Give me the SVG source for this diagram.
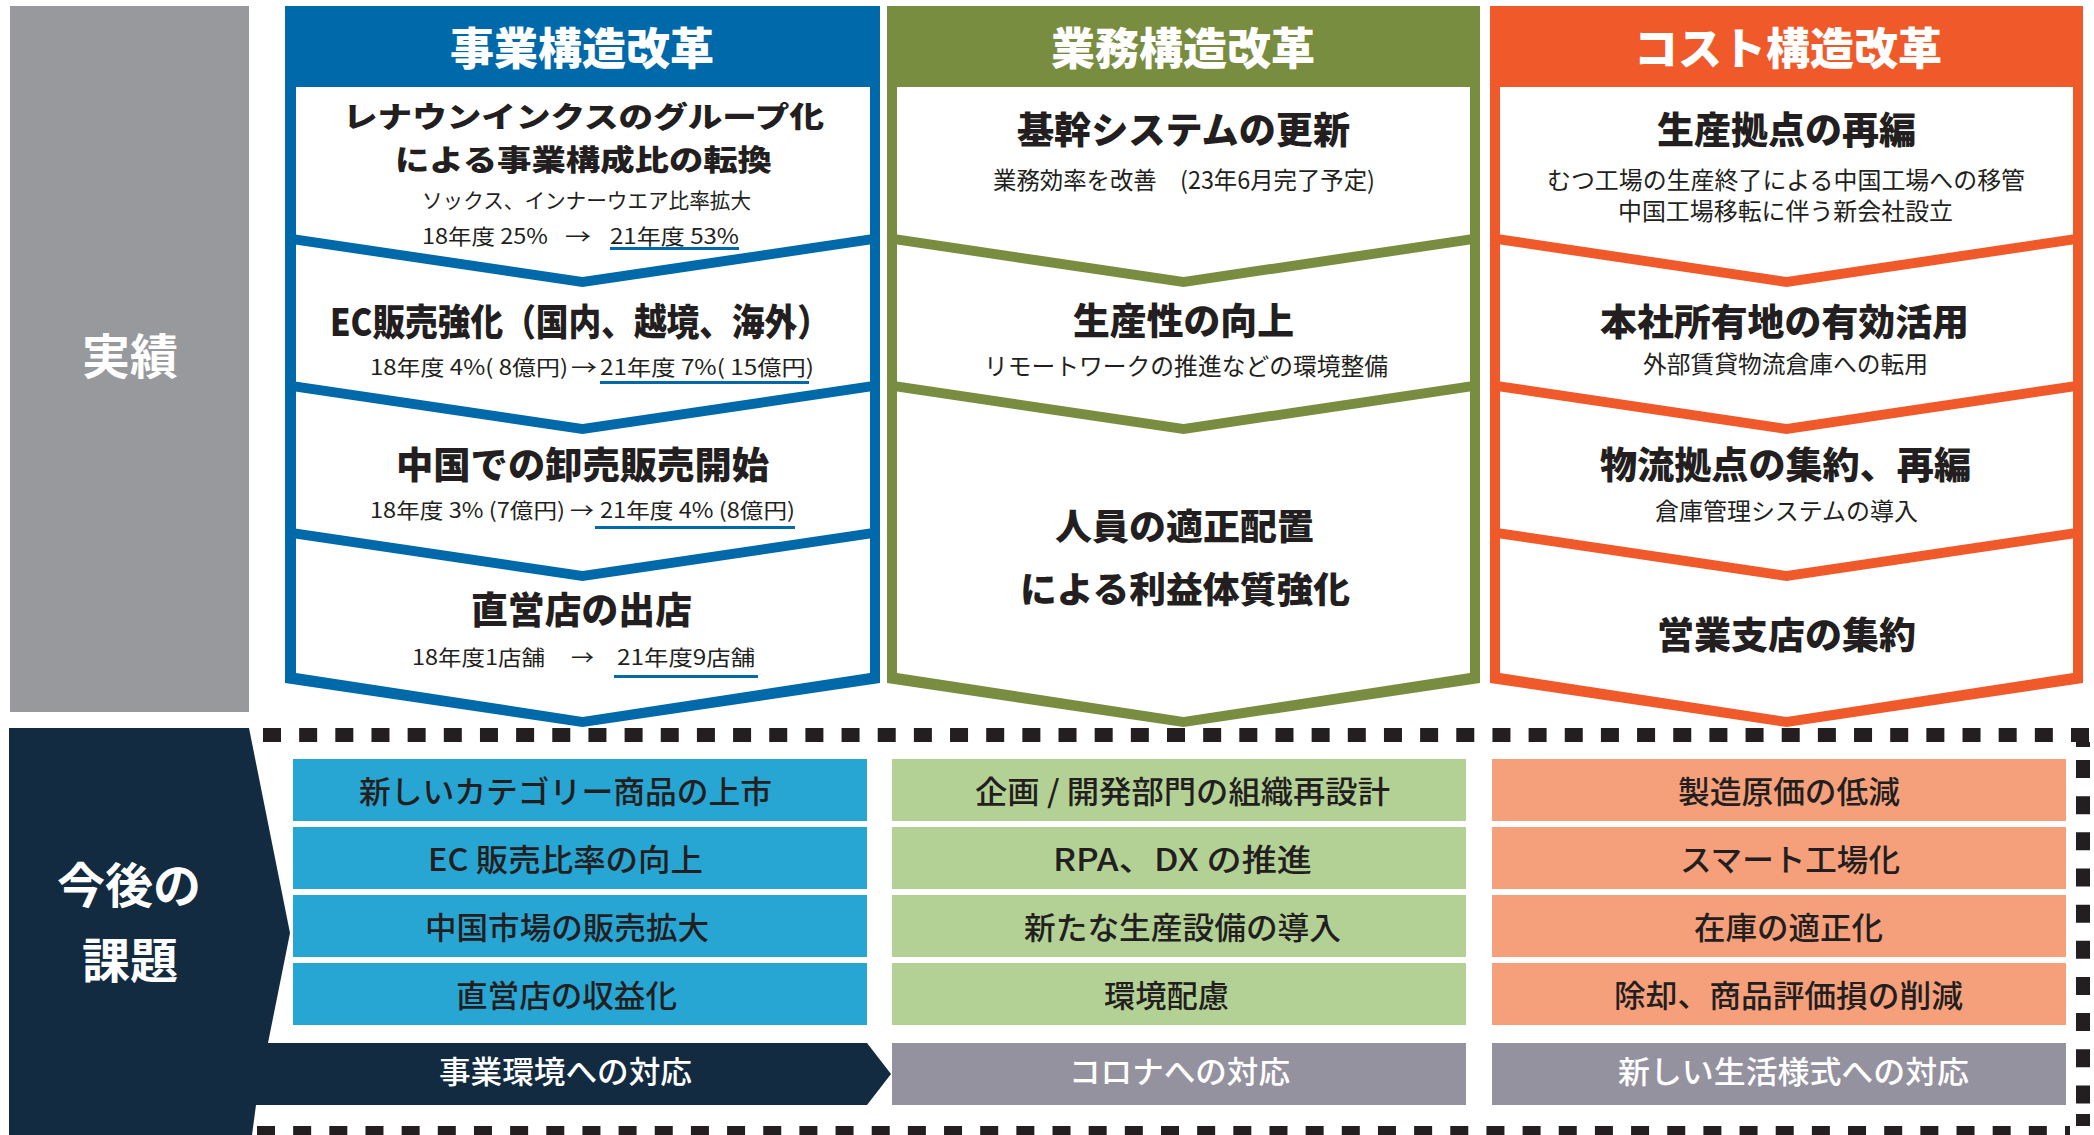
<svg xmlns="http://www.w3.org/2000/svg" width="2094" height="1135" viewBox="0 0 2094 1135">
<style>
text{font-family:"Noto Sans CJK JP","Noto Sans",sans-serif;fill:#231F20}
.h{font-size:44px;font-weight:900;fill:#fff;text-anchor:middle}
.t{font-size:37px;font-weight:900}
.t2{font-size:29px;font-weight:900}
.t3{font-size:36px;font-weight:900}
.s{font-size:24px;font-weight:400}
.n{font-size:21px;font-weight:400}
.k{font-size:31px;font-weight:500}
.w{fill:#fff}
.big{font-size:48px;font-weight:700;fill:#fff;text-anchor:middle}
.ul{fill:#0069AA}
.dash{stroke:#231F20;stroke-width:14;stroke-dasharray:18 18.16;fill:none}
</style>
<rect width="2094" height="1135" fill="#fff"/>

<g id="jisseki">
<rect x="10" y="6" width="239" height="706" fill="#98999D"/>
<text class="big" x="130" y="374">実績</text>
</g>

<g id="col-business">
<polygon points="285,6 880,6 880,683 582.5,727 285,683" fill="#0069AA"/>
<polygon points="296,87 870,87 870,673 582.5,717 296,673" fill="#fff"/>
<polygon points="285,233 582.5,277 880,233 880,243 582.5,287 285,243" fill="#0069AA"/>
<polygon points="285,380 582.5,424 880,380 880,390 582.5,434 285,390" fill="#0069AA"/>
<polygon points="285,527 582.5,571 880,527 880,537 582.5,581 285,537" fill="#0069AA"/>
<text class="h" x="582" y="65">事業構造改革</text>
<text class="t2" x="343" y="128" textLength="481" lengthAdjust="spacingAndGlyphs">レナウンインクスのグループ化</text>
<text class="t2" x="395" y="171" textLength="377" lengthAdjust="spacingAndGlyphs">による事業構成比の転換</text>
<text class="n" x="422" y="208" textLength="329" lengthAdjust="spacingAndGlyphs">ソックス、インナーウエア比率拡大</text>
<text class="n" x="422" y="244" textLength="126" lengthAdjust="spacingAndGlyphs">18年度 25%</text>
<text class="n" x="565" y="244" textLength="26" lengthAdjust="spacingAndGlyphs">→</text>
<text class="n" x="610" y="244" textLength="129" lengthAdjust="spacingAndGlyphs">21年度 53%</text>
<rect class="ul" x="610" y="247" width="129" height="3"/>
<text class="t" x="330" y="336" textLength="500" lengthAdjust="spacingAndGlyphs">EC販売強化（国内、越境、海外）</text>
<text class="n" x="370" y="375" textLength="198" lengthAdjust="spacingAndGlyphs">18年度 4%( 8億円)</text>
<text class="n" x="571" y="375" textLength="26" lengthAdjust="spacingAndGlyphs">→</text>
<text class="n" x="600" y="375" textLength="214" lengthAdjust="spacingAndGlyphs">21年度 7%( 15億円)</text>
<rect class="ul" x="600" y="381" width="209" height="3"/>
<text class="t" x="396" y="479" textLength="373" lengthAdjust="spacingAndGlyphs">中国での卸売販売開始</text>
<text class="n" x="370" y="518" textLength="195" lengthAdjust="spacingAndGlyphs">18年度 3% (7億円)</text>
<text class="n" x="570" y="518" textLength="24" lengthAdjust="spacingAndGlyphs">→</text>
<text class="n" x="600" y="518" textLength="195" lengthAdjust="spacingAndGlyphs">21年度 4% (8億円)</text>
<rect class="ul" x="595" y="526" width="200" height="3"/>
<text class="t" x="471" y="624" textLength="221" lengthAdjust="spacingAndGlyphs">直営店の出店</text>
<text class="n" x="412" y="665" textLength="133" lengthAdjust="spacingAndGlyphs">18年度1店舗</text>
<text class="n" x="571" y="665" textLength="23" lengthAdjust="spacingAndGlyphs">→</text>
<text class="n" x="617" y="665" textLength="138" lengthAdjust="spacingAndGlyphs">21年度9店舗</text>
<rect class="ul" x="614" y="675" width="144" height="3"/>
</g>

<g id="col-operations">
<polygon points="887,6 1480,6 1480,683 1183.5,727 887,683" fill="#798D41"/>
<polygon points="897,87 1470,87 1470,673 1183.5,717 897,673" fill="#fff"/>
<polygon points="887,233 1183.5,277 1480,233 1480,243 1183.5,287 887,243" fill="#798D41"/>
<polygon points="887,380 1183.5,424 1480,380 1480,390 1183.5,434 887,390" fill="#798D41"/>
<text class="h" x="1183" y="65">業務構造改革</text>
<text class="t" x="1017" y="144" textLength="333" lengthAdjust="spacingAndGlyphs">基幹システムの更新</text>
<text class="s" x="993" y="189" textLength="382" lengthAdjust="spacingAndGlyphs">業務効率を改善　(23年6月完了予定)</text>
<text class="t" x="1073" y="335" textLength="221" lengthAdjust="spacingAndGlyphs">生産性の向上</text>
<text class="s" x="984" y="375" textLength="404" lengthAdjust="spacingAndGlyphs">リモートワークの推進などの環境整備</text>
<text class="t3" x="1055" y="540" textLength="259" lengthAdjust="spacingAndGlyphs">人員の適正配置</text>
<text class="t3" x="1020" y="603" textLength="330" lengthAdjust="spacingAndGlyphs">による利益体質強化</text>
</g>

<g id="col-cost">
<polygon points="1490,6 2083,6 2083,683 1786.5,727 1490,683" fill="#F05A2A"/>
<polygon points="1500,87 2073,87 2073,673 1786.5,717 1500,673" fill="#fff"/>
<polygon points="1490,233 1786.5,277 2083,233 2083,243 1786.5,287 1490,243" fill="#F05A2A"/>
<polygon points="1490,380 1786.5,424 2083,380 2083,390 1786.5,434 1490,390" fill="#F05A2A"/>
<polygon points="1490,527 1786.5,571 2083,527 2083,537 1786.5,581 1490,537" fill="#F05A2A"/>
<text class="h" x="1788" y="65">コスト構造改革</text>
<text class="t" x="1657" y="144" textLength="259" lengthAdjust="spacingAndGlyphs">生産拠点の再編</text>
<text class="s" x="1547" y="189" textLength="478" lengthAdjust="spacingAndGlyphs">むつ工場の生産終了による中国工場への移管</text>
<text class="s" x="1618" y="220" textLength="335" lengthAdjust="spacingAndGlyphs">中国工場移転に伴う新会社設立</text>
<text class="t" x="1600" y="336" textLength="369" lengthAdjust="spacingAndGlyphs">本社所有地の有効活用</text>
<text class="s" x="1643" y="373" textLength="285" lengthAdjust="spacingAndGlyphs">外部賃貸物流倉庫への転用</text>
<text class="t" x="1600" y="479" textLength="371" lengthAdjust="spacingAndGlyphs">物流拠点の集約、再編</text>
<text class="s" x="1655" y="520" textLength="263" lengthAdjust="spacingAndGlyphs">倉庫管理システムの導入</text>
<text class="t" x="1657" y="649" textLength="259" lengthAdjust="spacingAndGlyphs">営業支店の集約</text>
</g>

<g id="future-frame">
<line class="dash" x1="263" y1="735" x2="2091" y2="735"/>
<line class="dash" x1="257" y1="1133" x2="2070" y2="1133"/>
<line class="dash" x1="2083" y1="760" x2="2083" y2="1104"/>
<path d="M2065,1126 H2090 V1114 H2076 V1126" fill="#231F20"/>
<rect x="2076" y="742" width="14" height="5" fill="#231F20"/>
</g>

<g id="future-label">
<polygon points="9,728 249,728 290,933 268,1043 867,1043 891,1074 867,1105 256,1105 252,1135 9,1135" fill="#132B40"/>
<text class="big" x="129" y="903">今後の</text>
<text class="big" x="130" y="978">課題</text>
<text class="k w" x="439" y="1083" textLength="253" lengthAdjust="spacingAndGlyphs">事業環境への対応</text>
</g>

<g id="tasks-business">
<rect x="293" y="759" width="574" height="62" fill="#27A5D3"/>
<rect x="293" y="827" width="574" height="62" fill="#27A5D3"/>
<rect x="293" y="895" width="574" height="62" fill="#27A5D3"/>
<rect x="293" y="963" width="574" height="62" fill="#27A5D3"/>
<text class="k" x="359" y="803" textLength="413" lengthAdjust="spacingAndGlyphs">新しいカテゴリー商品の上市</text>
<text class="k" x="428" y="871" textLength="275" lengthAdjust="spacingAndGlyphs">EC 販売比率の向上</text>
<text class="k" x="425" y="939" textLength="284" lengthAdjust="spacingAndGlyphs">中国市場の販売拡大</text>
<text class="k" x="456" y="1007" textLength="221" lengthAdjust="spacingAndGlyphs">直営店の収益化</text>
</g>

<g id="tasks-operations">
<rect x="892" y="759" width="574" height="62" fill="#B3D195"/>
<rect x="892" y="827" width="574" height="62" fill="#B3D195"/>
<rect x="892" y="895" width="574" height="62" fill="#B3D195"/>
<rect x="892" y="963" width="574" height="62" fill="#B3D195"/>
<rect x="892" y="1043" width="574" height="62" fill="#95929F"/>
<text class="k" x="975" y="803" textLength="415" lengthAdjust="spacingAndGlyphs">企画 / 開発部門の組織再設計</text>
<text class="k" x="1053" y="871" textLength="259" lengthAdjust="spacingAndGlyphs">RPA、DX の推進</text>
<text class="k" x="1024" y="939" textLength="317" lengthAdjust="spacingAndGlyphs">新たな生産設備の導入</text>
<text class="k" x="1104" y="1007" textLength="125" lengthAdjust="spacingAndGlyphs">環境配慮</text>
<text class="k w" x="1069" y="1083" textLength="221" lengthAdjust="spacingAndGlyphs">コロナへの対応</text>
</g>

<g id="tasks-cost">
<rect x="1492" y="759" width="574" height="62" fill="#F5A07B"/>
<rect x="1492" y="827" width="574" height="62" fill="#F5A07B"/>
<rect x="1492" y="895" width="574" height="62" fill="#F5A07B"/>
<rect x="1492" y="963" width="574" height="62" fill="#F5A07B"/>
<rect x="1492" y="1043" width="574" height="62" fill="#95929F"/>
<text class="k" x="1678" y="803" textLength="222" lengthAdjust="spacingAndGlyphs">製造原価の低減</text>
<text class="k" x="1680" y="871" textLength="220" lengthAdjust="spacingAndGlyphs">スマート工場化</text>
<text class="k" x="1694" y="939" textLength="189" lengthAdjust="spacingAndGlyphs">在庫の適正化</text>
<text class="k" x="1614" y="1007" textLength="349" lengthAdjust="spacingAndGlyphs">除却、商品評価損の削減</text>
<text class="k w" x="1618" y="1083" textLength="351" lengthAdjust="spacingAndGlyphs">新しい生活様式への対応</text>
</g>
</svg>
